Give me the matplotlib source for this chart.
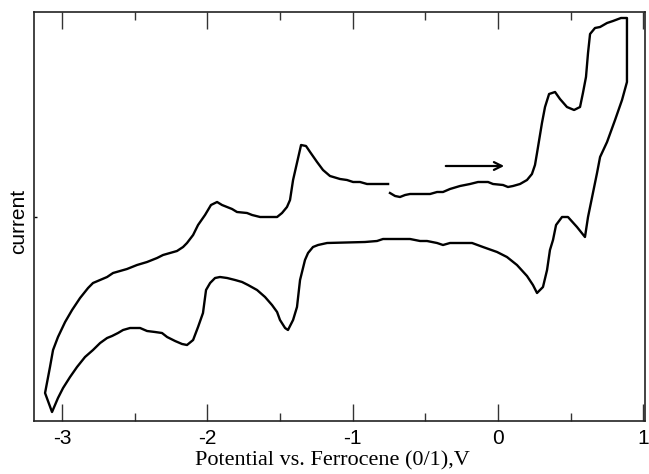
import numpy as np
import matplotlib
matplotlib.use("Agg")
import matplotlib.pyplot as plt
from matplotlib.ticker import MultipleLocator

plt.rcParams['axes.unicode_minus'] = False

# potential (V vs Fc) and current (arb. units)
# forward scan from -0.74 V up to the switching potential
fwd_E = [-0.743, -0.708, -0.674, -0.639, -0.605, -0.467, -0.419, -0.378, -0.330, -0.261,
         -0.192, -0.137, -0.068, -0.034, 0.035, 0.069, 0.104, 0.152, 0.200, 0.234,
         0.255, 0.269, 0.303, 0.324, 0.352, 0.393, 0.427, 0.475, 0.524, 0.565,
         0.585, 0.606, 0.620, 0.634, 0.668, 0.703, 0.751, 0.792, 0.847, 0.888, 0.888]
fwd_I = [2.4, 2.1, 2.0, 2.2, 2.3, 2.3, 2.5, 2.5, 2.8, 3.1,
         3.3, 3.5, 3.5, 3.3, 3.2, 3.0, 3.1, 3.3, 3.7, 4.3,
         5.2, 6.4, 9.4, 11.0, 12.3, 12.5, 11.8, 11.0, 10.7, 11.0,
         12.4, 14.0, 16.4, 18.3, 18.9, 19.0, 19.4, 19.6, 19.9, 19.9, 13.5]

# reverse scan down to -3.1 V
rev_E = [0.854, 0.806, 0.751, 0.703, 0.682, 0.654, 0.620, 0.599, 0.544, 0.482,
         0.441, 0.400, 0.379, 0.358, 0.338, 0.310, 0.269, 0.241, 0.200, 0.131,
         0.062, -0.006, -0.103, -0.178, -0.330, -0.378, -0.419, -0.488, -0.536, -0.605,
         -0.695, -0.791, -0.832, -0.915, -1.176, -1.238, -1.273, -1.307, -1.328, -1.362,
         -1.383, -1.410, -1.445, -1.465, -1.500, -1.520, -1.555, -1.603, -1.658, -1.720,
         -1.761, -1.809, -1.864, -1.913, -1.947, -1.981, -2.009, -2.030, -2.064, -2.098,
         -2.140, -2.174, -2.222, -2.277, -2.312, -2.360, -2.415, -2.463, -2.532, -2.580,
         -2.615, -2.656, -2.690, -2.738, -2.787, -2.842, -2.897, -2.945, -2.993, -3.028,
         -3.069]
rev_I = [11.7, 9.7, 7.5, 6.0, 4.4, 2.4, 0.0, -2.0, -1.0, 0.0,
         0.0, -0.8, -2.3, -3.3, -5.3, -7.0, -7.6, -6.8, -5.9, -4.8,
         -4.0, -3.5, -3.0, -2.6, -2.6, -2.8, -2.6, -2.4, -2.4, -2.2,
         -2.2, -2.2, -2.4, -2.5, -2.6, -2.8, -3.0, -3.6, -4.3, -6.3,
         -9.0, -10.3, -11.3, -11.1, -10.3, -9.5, -8.8, -8.0, -7.3, -6.8,
         -6.5, -6.3, -6.1, -6.0, -6.1, -6.6, -7.3, -9.6, -11.0, -12.3,
         -12.8, -12.7, -12.4, -12.0, -11.6, -11.5, -11.4, -11.1, -11.1, -11.3,
         -11.6, -11.9, -12.1, -12.6, -13.3, -14.0, -15.0, -16.0, -17.1, -18.1,
         -19.5]

# return scan back to the start
ret_E = [-3.117, -3.083, -3.062, -3.028, -2.979, -2.931, -2.876, -2.821, -2.787, -2.738,
         -2.690, -2.649, -2.553, -2.484, -2.415, -2.346, -2.305, -2.209, -2.167, -2.140,
         -2.098, -2.064, -2.016, -1.975, -1.933, -1.899, -1.864, -1.830, -1.796, -1.727,
         -1.692, -1.637, -1.520, -1.486, -1.452, -1.431, -1.410, -1.383, -1.355, -1.321,
         -1.293, -1.245, -1.204, -1.156, -1.087, -1.039, -0.997, -0.949, -0.901, -0.756]
ret_I = [-17.6, -15.0, -13.3, -12.0, -10.5, -9.3, -8.1, -7.1, -6.6, -6.3,
         -6.0, -5.6, -5.2, -4.8, -4.5, -4.1, -3.8, -3.4, -3.0, -2.6,
         -1.8, -0.8, 0.2, 1.2, 1.5, 1.2, 1.0, 0.8, 0.5, 0.4,
         0.2, 0.0, 0.0, 0.4, 1.0, 1.7, 3.7, 5.4, 7.2, 7.1,
         6.5, 5.5, 4.7, 4.1, 3.8, 3.7, 3.5, 3.5, 3.3, 3.3]

# scan direction arrow
arrow_E = [-0.378, 0.062]
arrow_I = 5.1

E = np.array(fwd_E + rev_E + ret_E)
I = np.array(fwd_I + rev_I + ret_I)

fig = plt.figure(figsize=(6.49, 4.74), dpi=100)
ax = fig.add_axes([0.0524, 0.1118, 0.9414, 0.8629])

ax.plot(E, I, color='black', lw=1.7)
ax.annotate('', xy=(arrow_E[1], arrow_I), xytext=(arrow_E[0], arrow_I),
            arrowprops=dict(arrowstyle='->', color='black', lw=1.6,
                            mutation_scale=14))

ax.set_xlim(-3.193, 1.012)
ax.set_ylim(-20.4, 20.5)

ax.xaxis.set_major_locator(MultipleLocator(1))
ax.xaxis.set_minor_locator(MultipleLocator(0.5))
ax.set_yticks([0])
ax.set_yticklabels([])
ax.tick_params(axis='x', which='major', direction='in', length=12, width=1,
               top=True, labelsize=15, pad=6, color='#333333')
ax.tick_params(axis='x', which='minor', direction='in', length=6, width=1,
               top=True, color='#333333')
ax.tick_params(axis='y', direction='in', length=2, width=1, right=False)
for lab in ax.get_xticklabels():
    lab.set_fontfamily('Liberation Sans')
for s in ax.spines.values():
    s.set_linewidth(1.2)
    s.set_color('#222222')

ax.set_xlabel('Potential vs. Ferrocene (0/1),V', family='Liberation Serif', fontsize=16)
ax.xaxis.set_label_coords(0.488, -0.074)
ax.xaxis.label.set_va('top')
ax.set_ylabel('current', family='Liberation Sans', fontsize=15)
ax.yaxis.set_label_coords(-0.010, 0.489)

fig.savefig('out.png', dpi=100)
